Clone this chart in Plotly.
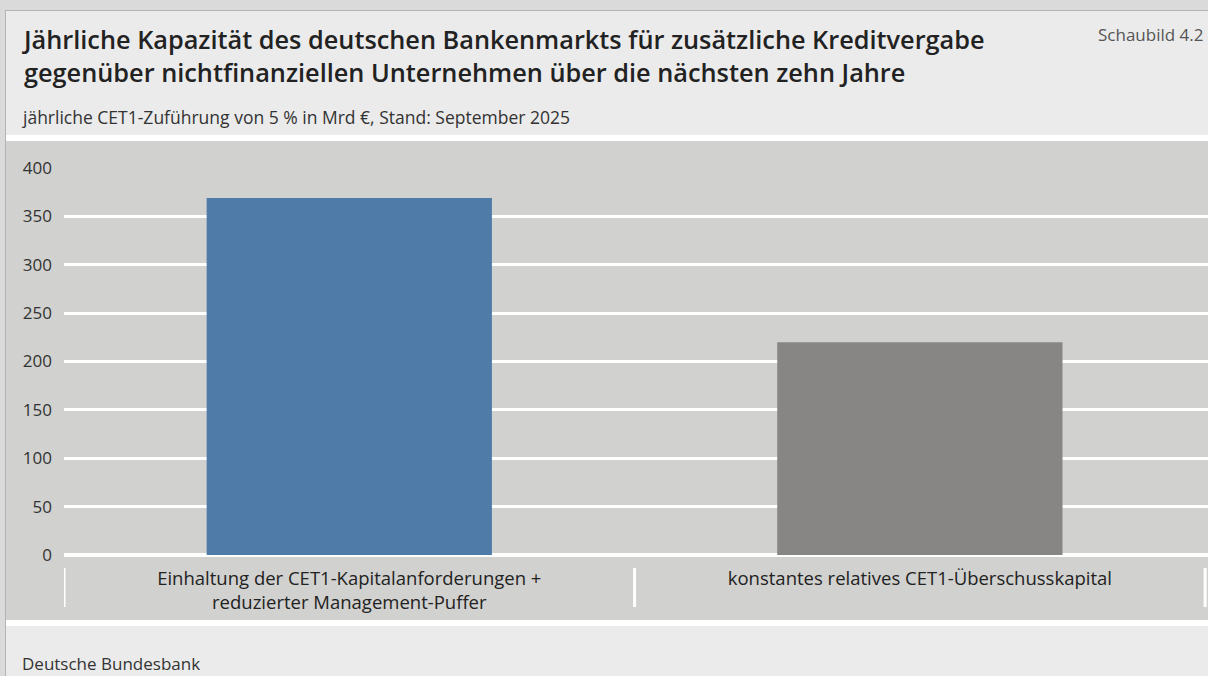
import plotly.graph_objects as go

categories = ["Einhaltung der CET1-Kapitalanforderungen +<br>reduzierter Management-Puffer",
              "konstantes relatives CET1-Überschusskapital"]
values = [369, 220]
bar_colors = ["#4f7ba8", "#878684"]
y_ticks = [0, 50, 100, 150, 200, 250, 300, 350, 400]

W, H = 1208, 676
def px_x(x): return x / W
def px_y(y): return 1 - y / H

FONT = "Open Sans"

fig = go.Figure()
fig.add_trace(go.Bar(x=[0, 1], y=values, marker=dict(color=bar_colors, line=dict(width=0)),
                     width=0.5, hoverinfo="y"))

shapes = [
    # outer top/left frame
    dict(type="rect", xref="paper", yref="paper", x0=0, x1=1, y0=px_y(10), y1=1,
         fillcolor="#dadada", line=dict(width=0), layer="below"),
    dict(type="rect", xref="paper", yref="paper", x0=0, x1=px_x(5), y0=0, y1=1,
         fillcolor="#dadada", line=dict(width=0), layer="below"),
    dict(type="line", xref="paper", yref="paper", x0=px_x(5), x1=1, y0=px_y(10.5), y1=px_y(10.5),
         line=dict(color="#b4b4b4", width=1), layer="below"),
    dict(type="line", xref="paper", yref="paper", x0=px_x(5.5), x1=px_x(5.5), y0=0, y1=px_y(10.5),
         line=dict(color="#b4b4b4", width=1), layer="below"),
    # white separators
    dict(type="rect", xref="paper", yref="paper", x0=px_x(6), x1=1, y0=px_y(141), y1=px_y(135),
         fillcolor="#ffffff", line=dict(width=0), layer="below"),
    dict(type="rect", xref="paper", yref="paper", x0=px_x(6), x1=1, y0=px_y(626), y1=px_y(620),
         fillcolor="#ffffff", line=dict(width=0), layer="below"),
    # chart area background
    dict(type="rect", xref="paper", yref="paper", x0=px_x(6), x1=1, y0=px_y(620), y1=px_y(141),
         fillcolor="#d1d1cf", line=dict(width=0), layer="below"),
]
# category boundary ticks
for b in [-0.5, 0.5, 1.5]:
    shapes.append(dict(type="line", xref="x", yref="paper", x0=b, x1=b,
                       y0=px_y(607), y1=px_y(568), line=dict(color="#ffffff", width=3)))

annotations = [
    dict(text="Jährliche Kapazität des deutschen Bankenmarkts für zusätzliche Kreditvergabe<br>"
              "gegenüber nichtfinanziellen Unternehmen über die nächsten zehn Jahre",
         xref="paper", yref="paper", x=px_x(20), y=px_y(55), xanchor="left", yanchor="middle",
         align="left", showarrow=False, font=dict(family=FONT, size=25.3, color="#222222", weight=600)),
    dict(text="jährliche CET1-Zuführung von 5 % in Mrd €, Stand: September 2025",
         xref="paper", yref="paper", x=px_x(20), y=px_y(117), xanchor="left", yanchor="middle",
         showarrow=False, font=dict(family=FONT, size=17.5, color="#333333")),
    dict(text="Schaubild 4.2",
         xref="paper", yref="paper", x=px_x(1205), y=px_y(34), xanchor="right", yanchor="middle",
         showarrow=False, font=dict(family=FONT, size=17, color="#555555")),
    dict(text="Deutsche Bundesbank",
         xref="paper", yref="paper", x=px_x(20), y=px_y(663), xanchor="left", yanchor="middle",
         showarrow=False, font=dict(family=FONT, size=17, color="#333333")),
]

fig.update_layout(
    width=W, height=H, margin=dict(l=0, r=0, t=0, b=0, pad=0),
    paper_bgcolor="#ebebeb", plot_bgcolor="rgba(0,0,0,0)",
    showlegend=False, shapes=shapes, annotations=annotations,
    font=dict(family=FONT, size=17, color="#333333"),
    xaxis=dict(domain=[px_x(64), 1], range=[-0.5, 1.505], tickvals=[0, 1], ticktext=categories,
               showgrid=False, zeroline=False, showline=False, ticks="", automargin=False,
               tickfont=dict(family=FONT, size=18.5, color="#222222"), ticklabelstandoff=10),
    yaxis=dict(domain=[px_y(555), px_y(168)], range=[0, 400], tickvals=y_ticks,
               showgrid=True, gridcolor="#ffffff", gridwidth=3, automargin=False,
               zeroline=True, zerolinecolor="#ffffff", zerolinewidth=4,
               showline=False, ticks="", ticklabelstandoff=11,
               tickfont=dict(family=FONT, size=17, color="#333333")),
    bargap=0.5,
)

fig.write_html("out.html", config={"displayModeBar": False},
               post_script="document.body.style.margin='0';document.body.style.overflow='hidden';")
